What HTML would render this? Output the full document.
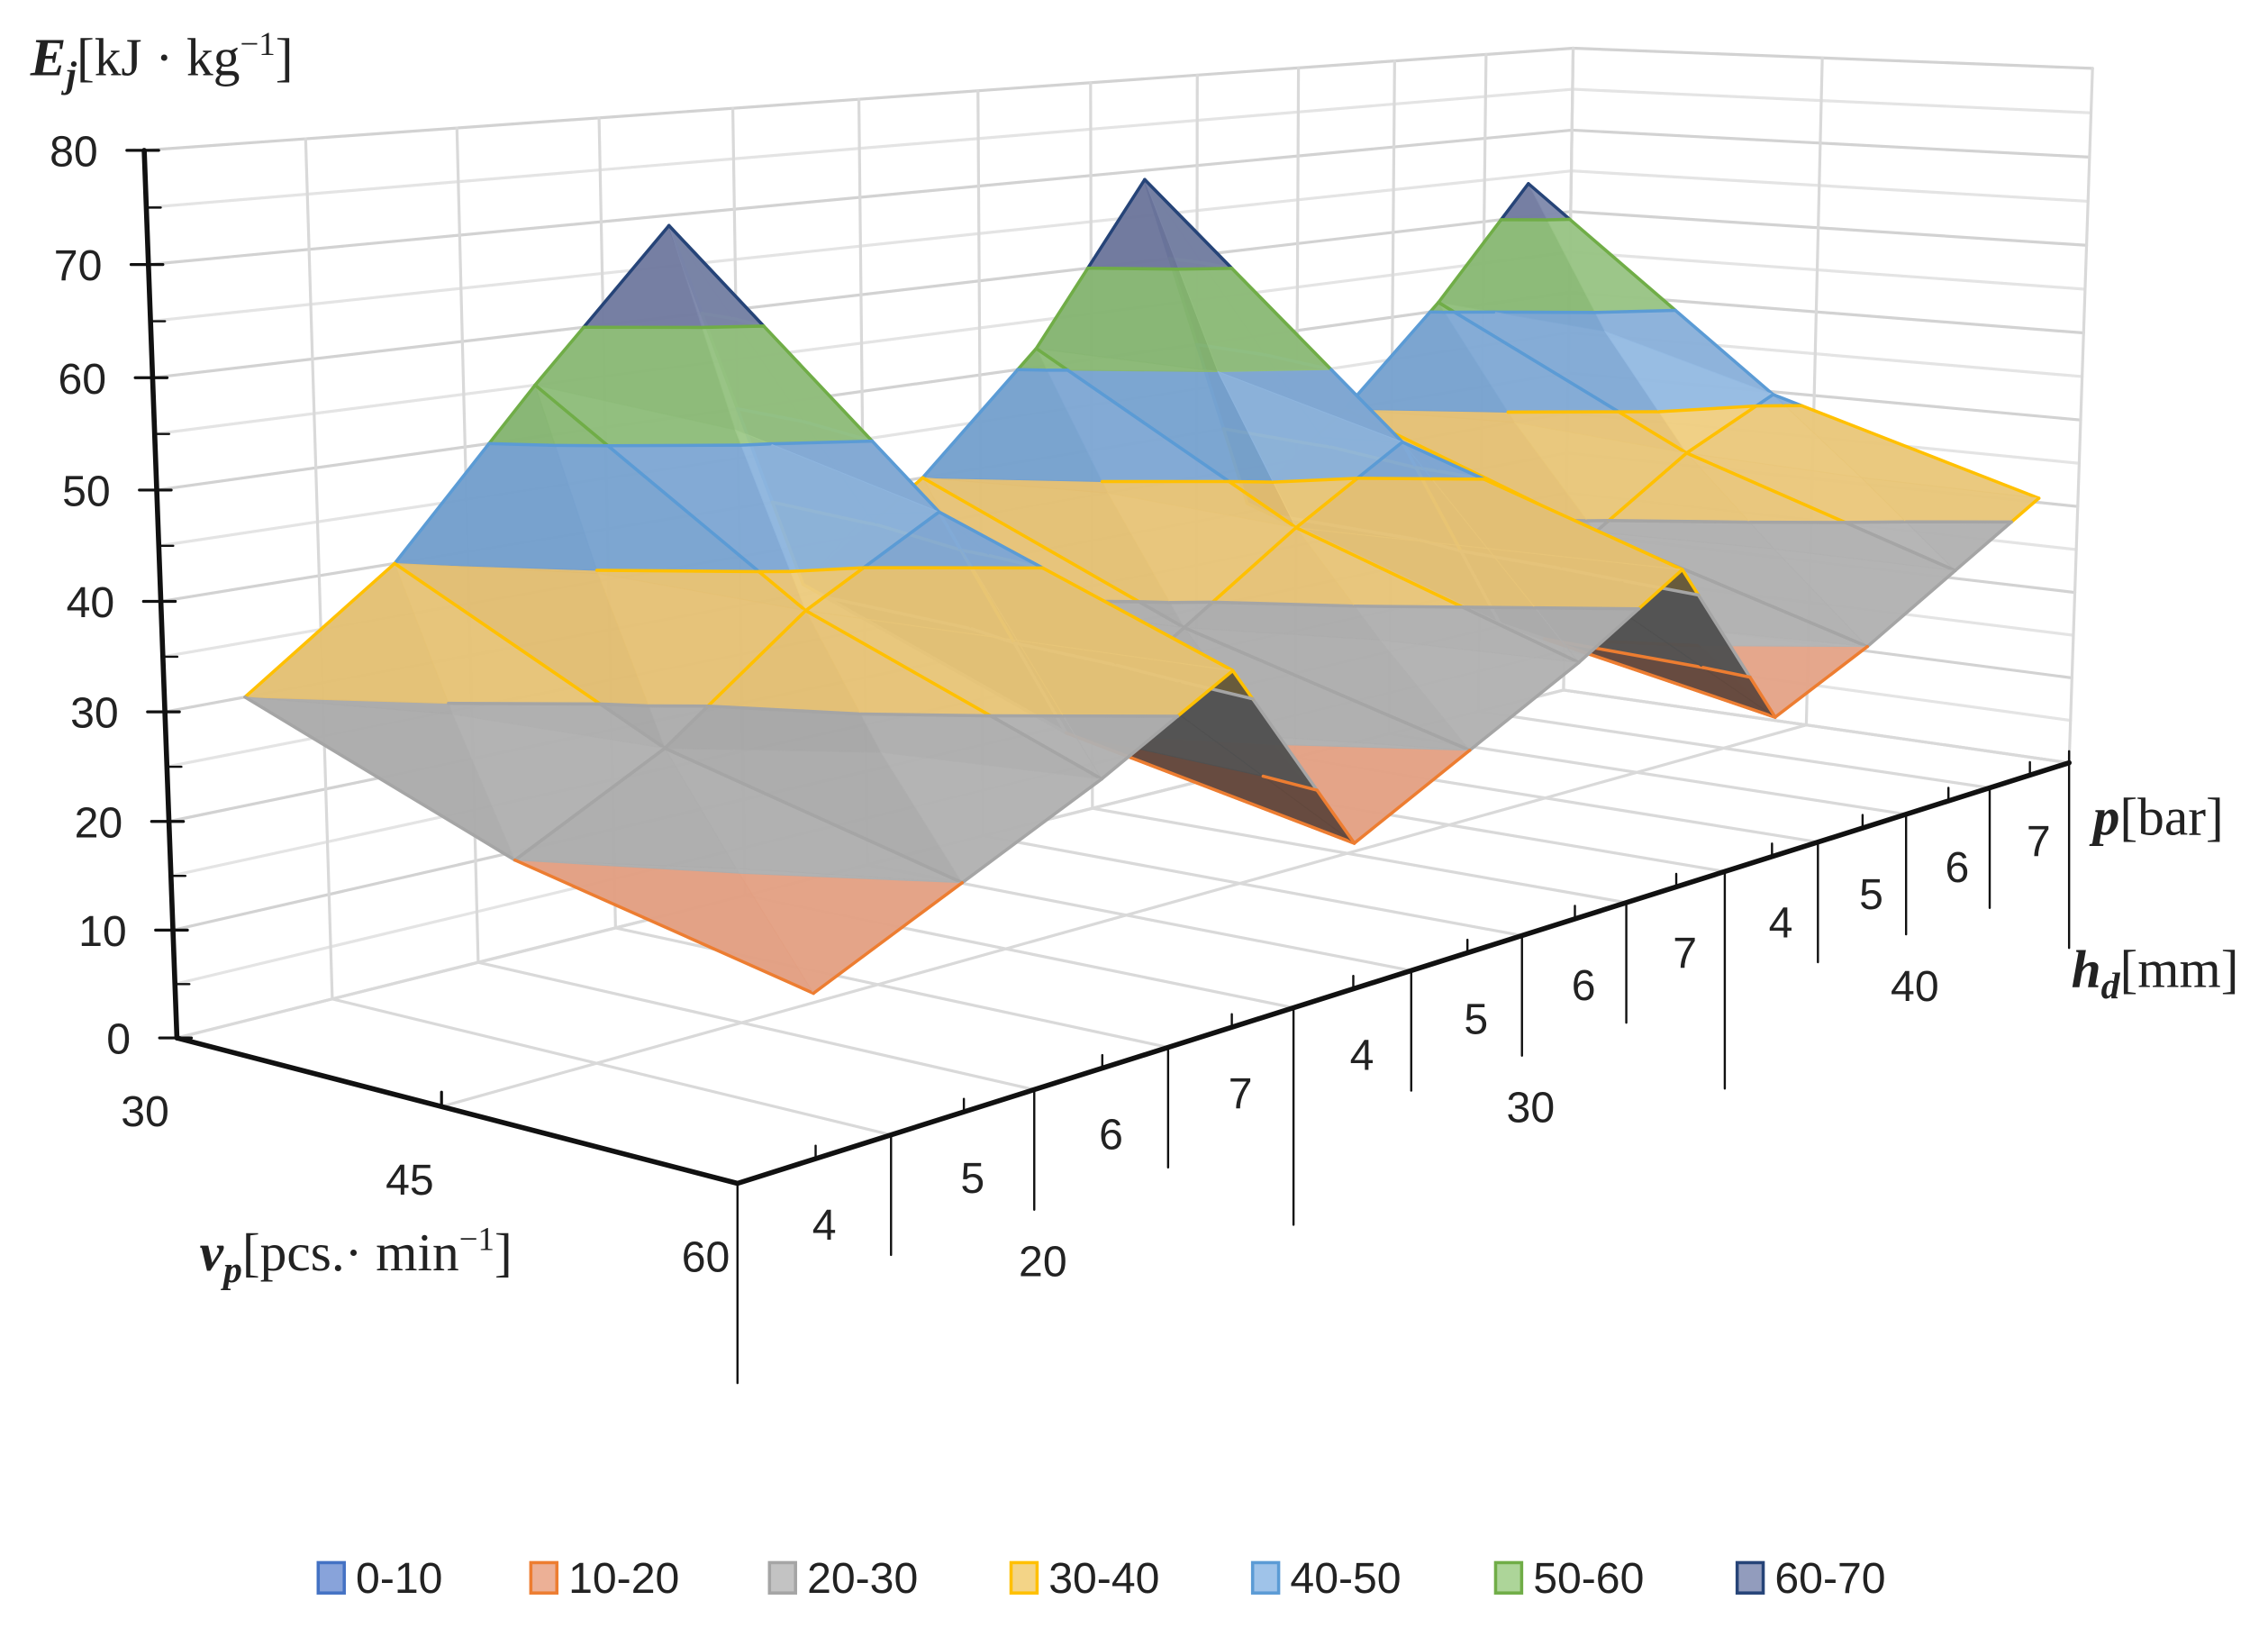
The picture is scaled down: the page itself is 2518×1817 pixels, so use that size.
<!DOCTYPE html>
<html><head><meta charset="utf-8"><style>
html,body{margin:0;padding:0;background:#fff;}
svg{display:block;}
text{font-family:"Liberation Sans",sans-serif;fill:#222;}
.ser{font-family:"Liberation Serif",serif;}
</style></head><body>
<svg id="chart" xmlns="http://www.w3.org/2000/svg" width="2518" height="1817" viewBox="0 0 1568 1131.4" preserveAspectRatio="none">
<g id="walls"></g>
<g id="axes"></g>
<g id="surface"></g>
<g id="labels"></g>
<text class="ser" x="21" y="52" font-size="37"><tspan font-weight="bold" font-style="italic">E</tspan><tspan font-weight="bold" font-style="italic" font-size="26" dy="8">j</tspan><tspan dy="-8">[kJ · kg</tspan><tspan font-size="23" dy="-14">−1</tspan><tspan dy="14">]</tspan></text>
<text class="ser" x="1447" y="577" font-size="37"><tspan font-weight="bold" font-style="italic">p</tspan>[bar]</text>
<text class="ser" x="1432" y="682" font-size="37"><tspan font-weight="bold" font-style="italic">h</tspan><tspan font-weight="bold" font-style="italic" font-size="26" dy="8">d</tspan><tspan dy="-8">[mm]</tspan></text>
<text class="ser" x="138" y="878" font-size="37"><tspan font-weight="bold" font-style="italic">v</tspan><tspan font-weight="bold" font-style="italic" font-size="26" dy="8">p</tspan><tspan dy="-8">[pcs.· min</tspan><tspan font-size="23" dy="-14">−1</tspan><tspan dy="14">]</tspan></text>
<g id="legend"></g>
</svg>
<script>
// ---- chart data ----
const pressureLabels = ['4','5','6','7'];
const hdLabels = ['20','30','40'];
const vpLabels = ['30','45','60'];
const zTickLabels = ['0','10','20','30','40','50','60','70','80'];
const ejVp30 = [30,40,55,69, 31,40,52,69, 31,40,51,64];
const ejVp45 = [20,27,37,44, 20,28,36,43, 21,29,36,41];
const ejVp60 = [14,20,26,33, 14,20,26,33, 15,20,26,32];
const bandLabels = ['0-10','10-20','20-30','30-40','40-50','50-60','60-70'];

const NS='http://www.w3.org/2000/svg';
const rows=[ejVp30,ejVp45,ejVp60];
const nCat=ejVp30.length, zMax=80;

// ---- projection (DLT fit to box corners) ----
const calib=[[0,0,0,121.5,717],[0,0,1,100,104],[0,1,0,510.7,817.7],[1,1,0,1430.5,528],
[1,1,1,1447.5,46.5],[1,0,1,1087,33],[1,0.5,0,1247,499],[1,0.5,1,1259.5,41],
[1/3,1,0,894,697],[2/3,1,0,1192.4,602.6],[1,0,0,1083,478]];
function solveDLT(){
  const A=[],b=[];
  calib.forEach(([X,Y,Z,u,v])=>{
    A.push([X,Y,Z,1,0,0,0,0,-u*X,-u*Y,-u*Z]);b.push(u);
    A.push([0,0,0,0,X,Y,Z,1,-v*X,-v*Y,-v*Z]);b.push(v);
  });
  const n=11,M=[];
  for(let i=0;i<n;i++){M.push([]);for(let j=0;j<=n;j++){let s=0;for(let k=0;k<A.length;k++)s+=A[k][i]*(j<n?A[k][j]:b[k]);M[i].push(s);}}
  for(let i=0;i<n;i++){let p=i;for(let r=i+1;r<n;r++)if(Math.abs(M[r][i])>Math.abs(M[p][i]))p=r;[M[i],M[p]]=[M[p],M[i]];
    for(let r=0;r<n;r++){if(r===i)continue;const f=M[r][i]/M[i][i];for(let c=i;c<=n;c++)M[r][c]-=f*M[i][c];}}
  return M.map((r,i)=>r[n]/r[i]);
}
const H=solveDLT();
function proj(X,Y,Z){const w=H[8]*X+H[9]*Y+H[10]*Z+1;return [(H[0]*X+H[1]*Y+H[2]*Z+H[3])/w,(H[4]*X+H[5]*Y+H[6]*Z+H[7])/w,w];}
const xOf=c=>(c+0.5)/nCat, yOf=r=>r/(rows.length-1), zOf=z=>z/zMax;
function P3(p){return proj(p[0],p[1],p[2]/zMax);}

function line(g,a,b,stroke,w,name){const l=document.createElementNS(NS,'line');
  l.setAttribute('x1',a[0].toFixed(2));l.setAttribute('y1',a[1].toFixed(2));l.setAttribute('x2',b[0].toFixed(2));l.setAttribute('y2',b[1].toFixed(2));
  l.setAttribute('stroke',stroke);l.setAttribute('stroke-width',w);l.setAttribute('stroke-linecap','round');
  
  
  g.appendChild(l);return l;}
function text(g,x,y,s,size,anchor,name){const t=document.createElementNS(NS,'text');
  t.setAttribute('x',x.toFixed(1));t.setAttribute('y',y.toFixed(1));t.setAttribute('font-size',size);t.setAttribute('text-anchor',anchor);t.setAttribute('dominant-baseline','central');t.textContent=s;
  
  
  g.appendChild(t);return t;}

// ---- walls & gridlines ----
const walls=document.getElementById('walls');
for(let z=0;z<=zMax;z+=5){const major=z%10===0;const col=major?'#d2d2d2':'#e4e4e4';
  line(walls,proj(0,0,zOf(z)),proj(1,0,zOf(z)),col,2,'back-wall-gridline');
  line(walls,proj(1,0,zOf(z)),proj(1,1,zOf(z)),col,2,'side-wall-gridline');}
for(let k=0;k<=nCat;k++){line(walls,proj(k/nCat,0,0),proj(k/nCat,0,1),'#d9d9d9',2,'back-wall-vertical');
  line(walls,proj(k/nCat,0,0),proj(k/nCat,1,0),'#d9d9d9',2,'floor-gridline');}
[0,0.5,1].forEach(y=>{line(walls,proj(1,y,0),proj(1,y,1),'#d9d9d9',2,'side-wall-vertical');
  line(walls,proj(0,y,0),proj(1,y,0),'#d9d9d9',2,'floor-gridline');});

// ---- axes ----
const axes=document.getElementById('axes');
line(axes,proj(0,0,0),proj(0,0,1),'#111',3.5,'z-axis-line');
line(axes,proj(0,0,0),proj(0,1,0),'#111',3.5,'vp-axis-line');
line(axes,proj(0,1,0),proj(1,1,0),'#111',3.5,'category-axis-line');
const lab=document.getElementById('labels');
for(let z=0;z<=zMax;z+=5){const p=proj(0,0,zOf(z));
  if(z%10===0){line(axes,[p[0]-12,p[1]],[p[0]+10,p[1]],'#111',2,'z-major-tick');}
  else line(axes,[p[0],p[1]],[p[0]+10,p[1]],'#111',1.5,'z-minor-tick');}
zTickLabels.forEach((s,i)=>{const p=proj(0,0,zOf(+s));text(lab,p[0]-32,p[1]+1,s,30,'end','z-tick-label');});
vpLabels.forEach((s,i)=>{const p=proj(0,yOf(i),0);text(lab,p[0]-22,p[1]+51,s,30,'middle','vp-tick-label');
  if(i===1)line(axes,p,[p[0],p[1]-10],'#111',2,'vp-tick');});
for(let k=0;k<=nCat;k++){const p=proj(k/nCat,1,0);const grp=k%pressureLabels.length===0;
  line(axes,[p[0],p[1]+(k===nCat?-8:0)],[p[0],p[1]+(grp?(k===0?138:(k===nCat?128:150)):83)],'#111',1.5,grp?'group-divider':'category-divider');}
for(let c=0;c<nCat;c++){const p=proj(xOf(c),1,0);line(axes,p,[p[0],p[1]-9],'#111',1.5,'category-tick');
  text(lab,p[0]+6,p[1]+46,pressureLabels[c%pressureLabels.length],30,'middle','p-tick-label');}
hdLabels.forEach((s,g)=>{const p=proj((g*4+2)/nCat,1,0);text(lab,p[0]+6,p[1]+119,s,30,'middle','hd-group-label');});

// ---- bands ----
const bands=[
 {dark:[100,130,200],light:[160,185,230],stroke:'#4472c4'},
 {dark:[222,152,122],light:[245,192,168],stroke:'#ed7d31'},
 {dark:[165,165,165],light:[215,215,215],stroke:'#a5a5a5'},
 {dark:[225,188,112],light:[255,228,150],stroke:'#ffc000'},
 {dark:[115,158,204],light:[188,219,252],stroke:'#5b9bd5'},
 {dark:[132,180,112],light:[200,235,180],stroke:'#70ad47'},
 {dark:[108,118,155],light:[172,182,212],stroke:'#264478'},
 {dark:[108,118,155],light:[172,182,212],stroke:'#264478'}];
const bandOf=z=>Math.max(0,Math.min(7,Math.floor(z/10)));
const mix=(a,b,t)=>'rgb('+a.map((v,i)=>Math.round(v+(b[i]-v)*t)).join(',')+')';

// ---- surface ----
const surf=document.getElementById('surface');
const tris=[];
const triRank=[0,1,3,2]; // back, right, front, left -> draw order back,right,left,front
for(let r=0;r<rows.length-1;r++)for(let c=0;c<nCat-1;c++){
  const v00=[xOf(c),yOf(r),rows[r][c]],v10=[xOf(c+1),yOf(r),rows[r][c+1]],v11=[xOf(c+1),yOf(r+1),rows[r+1][c+1]],v01=[xOf(c),yOf(r+1),rows[r+1][c]];
  const ctr=[(v00[0]+v10[0])/2,(v00[1]+v01[1])/2,(v00[2]+v10[2]+v11[2]+v01[2])/4];
  [[v00,v10],[v10,v11],[v11,v01],[v01,v00]].forEach(([a,b],k)=>{
    tris.push({pts:[ctr,a,b],key:(nCat-c)*100+r*10+triRank[k]});});
}
tris.sort((a,b)=>a.key-b.key);
function clip(poly,z,keepAbove){const out=[];for(let i=0;i<poly.length;i++){const a=poly[i],b=poly[(i+1)%poly.length];
  const ia=keepAbove?a[2]>=z:a[2]<=z, ib=keepAbove?b[2]>=z:b[2]<=z;
  if(ia)out.push(a);
  if(ia!==ib){const t=(z-a[2])/(b[2]-a[2]);out.push([a[0]+(b[0]-a[0])*t,a[1]+(b[1]-a[1])*t,z]);}}return out;}
const area=pts=>{let s=0;for(let i=0;i<pts.length;i++){const a=pts[i],b=pts[(i+1)%pts.length];s+=a[0]*b[1]-b[0]*a[1];}return s/2;};
tris.forEach(tr=>{
  const [o,a,b]=tr.pts;
  const sp=tr.pts.map(P3), flat=tr.pts.map(p=>proj(p[0],p[1],0));
  const under=Math.sign(area(sp))!==Math.sign(area(flat));
  const W=[3.2,1.0,1.4];
  const u=[0,1,2].map(i=>(a[i]-o[i])*(i===2?W[2]/zMax:W[i])),v=[0,1,2].map(i=>(b[i]-o[i])*(i===2?W[2]/zMax:W[i]));
  let n=[u[1]*v[2]-u[2]*v[1],u[2]*v[0]-u[0]*v[2],u[0]*v[1]-u[1]*v[0]];if(n[2]<0)n=n.map(x=>-x);
  const L=Math.hypot(...n);const t=Math.max(0,Math.min(1,0.5+1.3*(n[0]*0.85+n[1]*0.35)/L));
  const zs=tr.pts.map(p=>p[2]);const bmin=bandOf(Math.min(...zs)),bmax=bandOf(Math.max(...zs));
  for(let k=bmin;k<=bmax;k++){
    let poly=clip(clip(tr.pts,k*10,true),k*10+10,false);if(poly.length<3)continue;
    const bd=bands[k];const fill=under?mix([0,0,0],mix(bd.dark,bd.light,0.5).match(/\d+/g).map(Number),0.42):mix(bd.dark,bd.light,t);
    const pg=document.createElementNS(NS,'polygon');
    pg.setAttribute('points',poly.map(p=>P3(p).slice(0,2).map(x=>x.toFixed(2)).join(',')).join(' '));
    pg.setAttribute('fill',fill);pg.setAttribute('stroke',fill);pg.setAttribute('stroke-width','0.6');pg.setAttribute('fill-opacity','0.96');
    
    
    surf.appendChild(pg);
  }
  const cuts=[0,1];for(let lv=10;lv<zMax;lv+=10){const t2=(lv-a[2])/(b[2]-a[2]);if(t2>0&&t2<1)cuts.push(t2);}cuts.sort((x,y)=>x-y);
  for(let i=0;i<cuts.length-1;i++){const pa=[0,1,2].map(j=>a[j]+(b[j]-a[j])*cuts[i]),pb=[0,1,2].map(j=>a[j]+(b[j]-a[j])*cuts[i+1]);
    const zm=(pa[2]+pb[2])/2;line(surf,P3(pa),P3(pb),bands[bandOf(zm)].stroke,2.2,'mesh-edge');}
  for(let lv=10;lv<zMax;lv+=10){const ptsC=[];const E=[[o,a],[a,b],[b,o]];
    E.forEach(([p,q])=>{if((p[2]-lv)*(q[2]-lv)<0){const t2=(lv-p[2])/(q[2]-p[2]);ptsC.push([p[0]+(q[0]-p[0])*t2,p[1]+(q[1]-p[1])*t2,lv]);}});
    if(ptsC.length===2)line(surf,P3(ptsC[0]),P3(ptsC[1]),bands[lv/10-1].stroke,2.2,'contour-line');}
});

// ---- legend ----
const leg=document.getElementById('legend');
const legX=[220,367,532,699,866,1034,1201];
bandLabels.forEach((s,i)=>{const bd=bands[i];
  const r=document.createElementNS(NS,'rect');r.setAttribute('x',legX[i]);r.setAttribute('y',1080);r.setAttribute('width',18);r.setAttribute('height',21);
  r.setAttribute('fill',mix(bd.dark,bd.light,0.6));r.setAttribute('stroke',bd.stroke);r.setAttribute('stroke-width',2.2);
  
  
  leg.appendChild(r);
  text(leg,legX[i]+26,1091,s,30,'start','legend-entry-'+s);
});
</script>
</body></html>
